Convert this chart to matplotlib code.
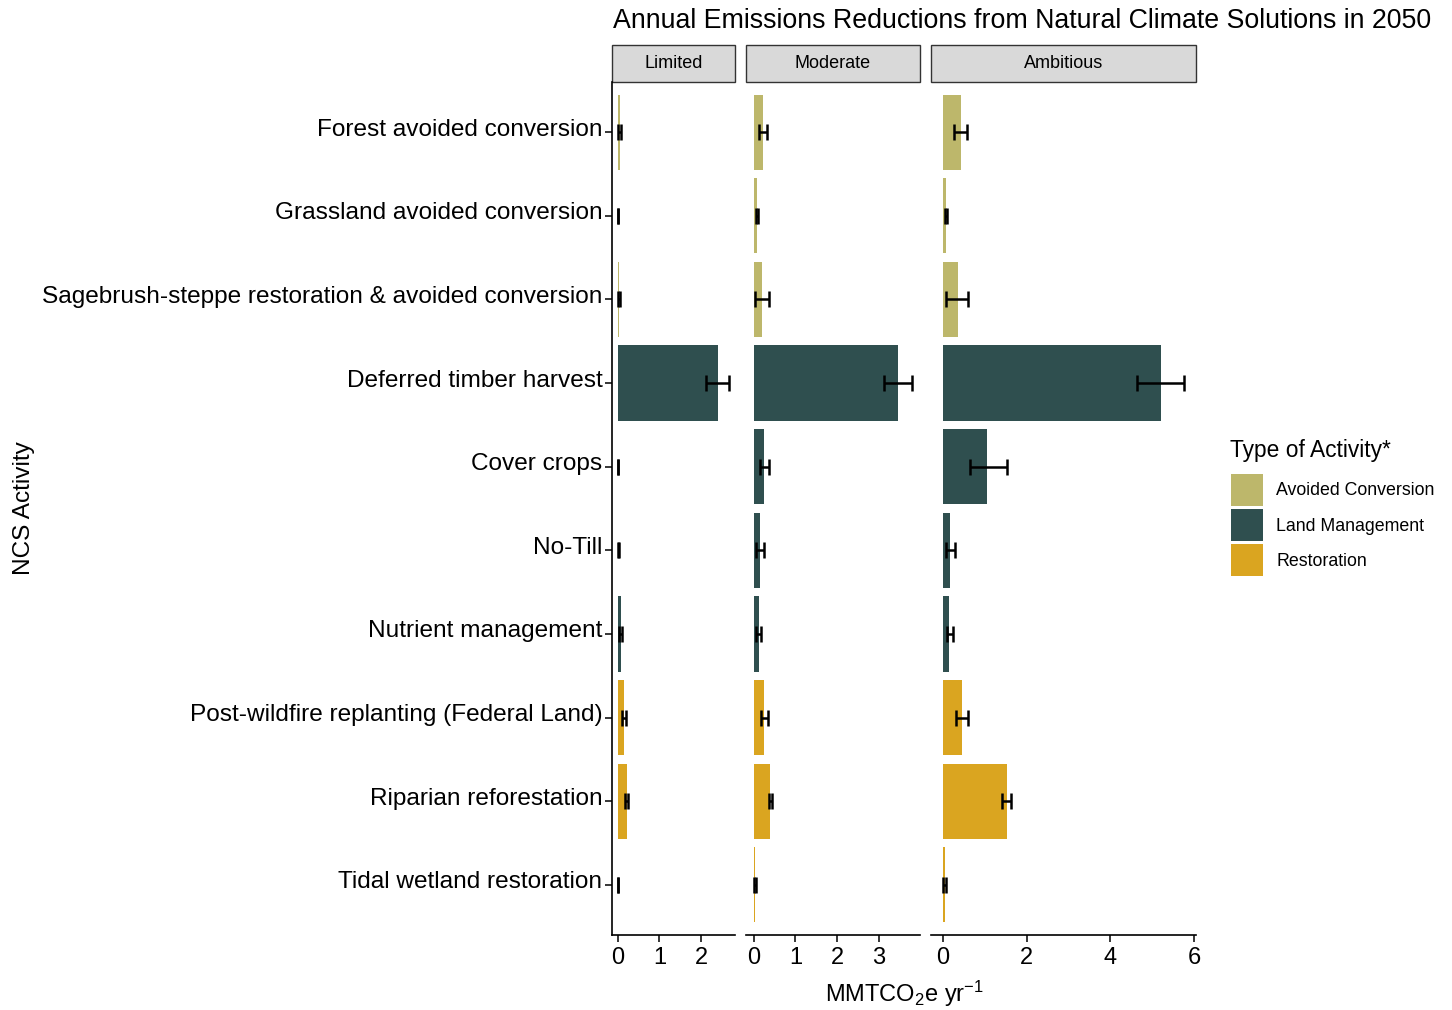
import numpy as np
import matplotlib
matplotlib.use("Agg")
import matplotlib.pyplot as plt
import matplotlib.transforms as mtransforms
from matplotlib.patches import Patch, Rectangle

plt.rcParams['font.family'] = ['Liberation Sans', 'DejaVu Sans']
plt.rcParams['mathtext.default'] = 'regular'

activities = [
    "Forest avoided conversion",
    "Grassland avoided conversion",
    "Sagebrush-steppe restoration & avoided conversion",
    "Deferred timber harvest",
    "Cover crops",
    "No-Till",
    "Nutrient management",
    "Post-wildfire replanting (Federal Land)",
    "Riparian reforestation",
    "Tidal wetland restoration",
]
activity_type = [
    "Avoided Conversion", "Avoided Conversion", "Avoided Conversion",
    "Land Management", "Land Management", "Land Management", "Land Management",
    "Restoration", "Restoration", "Restoration",
]
scenarios = ["Limited", "Moderate", "Ambitious"]

# mean values and lower / upper bounds (MMTCO2e per year)
limited = [0.05, 0.02, 0.03, 2.40, 0.00, 0.02, 0.08, 0.16, 0.22, 0.02]
limited_lo = [0.01, 0.00, 0.00, 2.12, 0.00, 0.00, 0.03, 0.10, 0.18, 0.00]
limited_hi = [0.08, 0.02, 0.05, 2.67, 0.01, 0.03, 0.11, 0.20, 0.24, 0.02]

moderate = [0.22, 0.08, 0.20, 3.46, 0.25, 0.14, 0.12, 0.25, 0.40, 0.03]
moderate_lo = [0.12, 0.05, 0.02, 3.11, 0.14, 0.05, 0.06, 0.18, 0.37, 0.00]
moderate_hi = [0.32, 0.10, 0.37, 3.79, 0.37, 0.24, 0.17, 0.34, 0.44, 0.06]

ambitious = [0.42, 0.06, 0.35, 5.22, 1.06, 0.17, 0.15, 0.45, 1.53, 0.04]
ambitious_lo = [0.25, 0.04, 0.08, 4.64, 0.65, 0.06, 0.09, 0.31, 1.41, 0.00]
ambitious_hi = [0.58, 0.10, 0.60, 5.77, 1.52, 0.29, 0.23, 0.60, 1.63, 0.07]

type_colors = {
    "Avoided Conversion": "#BDB76B",
    "Land Management": "#2F4F4F",
    "Restoration": "#DAA520",
}

panels = [
    (limited, limited_lo, limited_hi),
    (moderate, moderate_lo, moderate_hi),
    (ambitious, ambitious_lo, ambitious_hi),
]

W, H = 1452, 1010
fig = plt.figure(figsize=(W / 100, H / 100), dpi=100)

px_per_unit = 41.8
left = 612
bottom = 75
height = 853
gap = 11
y = np.arange(len(activities))
colors = [type_colors[t] for t in activity_type]

for i, (name, (vals, lo, hi)) in enumerate(zip(scenarios, panels)):
    top = max(hi)
    x0, x1 = -0.05 * top, 1.05 * top
    w = (x1 - x0) * px_per_unit
    ax = fig.add_axes([left / W, bottom / H, w / W, height / H])
    left += w + gap

    ax.barh(y, vals, height=0.9, color=colors)
    lo = np.array(lo)
    hi = np.array(hi)
    ax.errorbar((lo + hi) / 2, y, xerr=(hi - lo) / 2, fmt='none', ecolor='black',
                elinewidth=1.8, capsize=6, capthick=1.8)

    ax.set_xlim(x0, x1)
    ax.set_ylim(len(activities) - 0.4, -0.6)
    ax.spines['top'].set_visible(False)
    ax.spines['right'].set_visible(False)
    ax.spines['bottom'].set_linewidth(1.2)
    ax.spines['left'].set_linewidth(1.2)
    ax.xaxis.set_major_locator(plt.MultipleLocator(2 if top > 5 else 1))
    ax.tick_params(axis='x', labelsize=17, length=5, width=1.1, pad=4)
    if i == 0:
        ax.set_yticks(y)
        ax.set_yticklabels(activities, fontsize=17.6)
        ax.tick_params(axis='y', length=5, width=1.1, pad=2)
        shift = mtransforms.ScaledTranslation(0, 5 / 100, fig.dpi_scale_trans)
        for lab in ax.get_yticklabels():
            lab.set_transform(lab.get_transform() + shift)
    else:
        ax.spines['left'].set_visible(False)
        ax.set_yticks([])

    # facet strip
    ax.add_patch(Rectangle((0, 1), 1, 37 / height, transform=ax.transAxes,
                           clip_on=False, facecolor='#D9D9D9', edgecolor='#333333', lw=1))
    ax.text(0.5, 1 + 18.5 / height, name, transform=ax.transAxes, ha='center',
            va='center', fontsize=13)

fig.text(613 / W, 1 - 21 / H, "Annual Emissions Reductions from Natural Climate Solutions in 2050",
         ha='left', va='center', fontsize=19.3)
fig.text(904 / W, 1 - 994 / H, "MMTCO$_2$e yr$^{-1}$", ha='center', va='center', fontsize=17)
fig.text(24 / W, 1 - 508 / H, "NCS Activity", rotation=90, ha='center', va='center', fontsize=17.6)

fig.text(1230 / W, 1 - 451 / H, "Type of Activity*", ha='left', va='center', fontsize=16.4)
handles = [Patch(facecolor=c) for c in type_colors.values()]
leg = fig.legend(handles, list(type_colors.keys()), loc='upper left',
                 bbox_to_anchor=(1231 / W, 1 - 474 / H), frameon=False, fontsize=12.75,
                 handlelength=1.8, handleheight=2.41, labelspacing=0.17, handletextpad=0.75,
                 borderaxespad=0, borderpad=0)

fig.savefig("out.png", dpi=100)
